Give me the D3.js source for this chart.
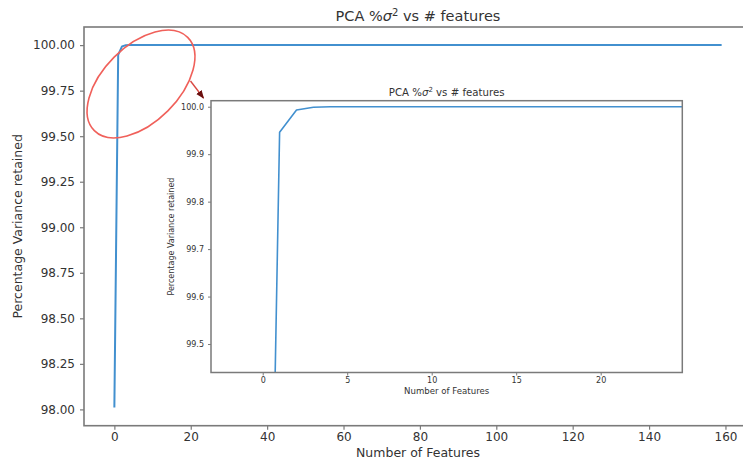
<!DOCTYPE html>
<html>
<head>
<meta charset="utf-8">
<script src="https://cdn.jsdelivr.net/npm/d3@7"></script>
<style>
  html, body { margin: 0; padding: 0; background: #fff; }
  svg { display: block; }
  text { font-family: "DejaVu Sans", sans-serif; fill: #333; }
</style>
</head>
<body>
<svg id="chart" width="743" height="459"></svg>
<script>
// ---- data ----
const features = [
  0,1,2,3,4,5,6,7,8,9,10,11,12,13,14,15,16,17,18,19,
  20,21,22,23,24,25,26,27,28,29,30,31,32,33,34,35,36,37,38,39,
  40,41,42,43,44,45,46,47,48,49,50,51,52,53,54,55,56,57,58,59,
  60,61,62,63,64,65,66,67,68,69,70,71,72,73,74,75,76,77,78,79,
  80,81,82,83,84,85,86,87,88,89,90,91,92,93,94,95,96,97,98,99,
  100,101,102,103,104,105,106,107,108,109,110,111,112,113,114,115,116,117,118,119,
  120,121,122,123,124,125,126,127,128,129,130,131,132,133,134,135,136,137,138,139,
  140,141,142,143,144,145,146,147,148,149,150,151,152,153,154,155,156,157,158,159
];
const varianceRetained = [
  98.01,99.946,99.993,99.999,100,100,100,100,100,100,100,100,100,100,100,100,100,100,100,100,
  100,100,100,100,100,100,100,100,100,100,100,100,100,100,100,100,100,100,100,100,
  100,100,100,100,100,100,100,100,100,100,100,100,100,100,100,100,100,100,100,100,
  100,100,100,100,100,100,100,100,100,100,100,100,100,100,100,100,100,100,100,100,
  100,100,100,100,100,100,100,100,100,100,100,100,100,100,100,100,100,100,100,100,
  100,100,100,100,100,100,100,100,100,100,100,100,100,100,100,100,100,100,100,100,
  100,100,100,100,100,100,100,100,100,100,100,100,100,100,100,100,100,100,100,100,
  100,100,100,100,100,100,100,100,100,100,100,100,100,100,100,100,100,100,100,100
];
const mainXTicks = [0,20,40,60,80,100,120,140,160];
const mainYTicks = [98.00,98.25,98.50,98.75,99.00,99.25,99.50,99.75,100.00];
const insetXTicks = [0,5,10,15,20];
const insetYTicks = [99.5,99.6,99.7,99.8,99.9,100.0];
const titleStart = "PCA %";
const titleSigma = "\u03C3";
const titleEnd = " vs # features";
const xLabelText = "Number of Features";
const yLabelText = "Percentage Variance retained";

const data = features.map((f, i) => ({x: f, y: varianceRetained[i]}));

const svg = d3.select("#chart");
const lineColor = "#4290cf";
const spineColor = "#7a7a7a";

function addTitle(sel, supSize, shift) {
  sel.append("tspan").text(titleStart);
  sel.append("tspan").attr("font-style", "italic").text(titleSigma);
  sel.append("tspan").attr("font-size", supSize).attr("dy", -shift).text("2");
  sel.append("tspan").attr("dy", shift).text(titleEnd);
}

// ---- main axes ----
const M = {left: 84, top: 27, right: 752, bottom: 425.7};
const x = d3.scaleLinear().domain([-7.95, 166.95]).range([M.left, M.right]);
const y = d3.scaleLinear().domain([97.9105, 100.0995]).range([M.bottom, M.top]);

const gx = svg.append("g").attr("transform", `translate(0,${M.bottom})`)
  .call(d3.axisBottom(x).tickValues(mainXTicks).tickFormat(d3.format("d")).tickSize(4).tickPadding(3));
const gy = svg.append("g").attr("transform", `translate(${M.left},0)`)
  .call(d3.axisLeft(y).tickValues(mainYTicks).tickFormat(d3.format(".2f")).tickSize(4).tickPadding(5));
[gx, gy].forEach(g => {
  g.select(".domain").remove();
  g.selectAll(".tick line").attr("stroke", spineColor).attr("stroke-width", 1.2);
  g.selectAll(".tick text").attr("font-size", 12).attr("fill", "#333").style("font-family", "DejaVu Sans");
});
svg.append("rect").attr("x", M.left).attr("y", M.top)
  .attr("width", M.right - M.left).attr("height", M.bottom - M.top)
  .attr("fill", "none").attr("stroke", spineColor).attr("stroke-width", 1.6);

svg.append("path").datum(data)
  .attr("fill", "none").attr("stroke", lineColor).attr("stroke-width", 2)
  .attr("stroke-linejoin", "round")
  .attr("d", d3.line().x(d => x(d.x)).y(d => y(d.y)));

const title = svg.append("text").attr("x", (M.left + M.right) / 2).attr("y", 20.5)
  .attr("text-anchor", "middle").attr("font-size", 14.5);
addTitle(title, 10, 5);

svg.append("text").attr("x", (M.left + M.right) / 2).attr("y", 456.5)
  .attr("text-anchor", "middle").attr("font-size", 12.5).text(xLabelText);
svg.append("text").attr("transform", `translate(22,${(M.top + M.bottom) / 2}) rotate(-90)`)
  .attr("text-anchor", "middle").attr("font-size", 12.5).text(yLabelText);

// ---- inset axes ----
const I = {left: 211, top: 100.7, right: 682.3, bottom: 372.5};
const ix = d3.scaleLinear().domain([-3.06, 24.83]).range([I.left, I.right]);
const iy = d3.scaleLinear().domain([99.44, 100.0127]).range([I.bottom, I.top]);

svg.append("rect").attr("x", I.left).attr("y", I.top)
  .attr("width", I.right - I.left).attr("height", I.bottom - I.top)
  .attr("fill", "#fff");

svg.append("clipPath").attr("id", "insetClip").append("rect")
  .attr("x", I.left).attr("y", I.top).attr("width", I.right - I.left).attr("height", I.bottom - I.top);

svg.append("path").datum(data)
  .attr("clip-path", "url(#insetClip)")
  .attr("fill", "none").attr("stroke", lineColor).attr("stroke-width", 1.6)
  .attr("stroke-linejoin", "round")
  .attr("d", d3.line().x(d => ix(d.x)).y(d => iy(d.y)));

const igx = svg.append("g").attr("transform", `translate(0,${I.bottom})`)
  .call(d3.axisBottom(ix).tickValues(insetXTicks).tickFormat(d3.format("d")).tickSize(3).tickPadding(2));
const igy = svg.append("g").attr("transform", `translate(${I.left},0)`)
  .call(d3.axisLeft(iy).tickValues(insetYTicks).tickFormat(d3.format(".1f")).tickSize(3).tickPadding(4));
[igx, igy].forEach(g => {
  g.select(".domain").remove();
  g.selectAll(".tick line").attr("stroke", spineColor).attr("stroke-width", 1);
  g.selectAll(".tick text").attr("font-size", 8).attr("fill", "#444").style("font-family", "DejaVu Sans");
});
svg.append("rect").attr("x", I.left).attr("y", I.top)
  .attr("width", I.right - I.left).attr("height", I.bottom - I.top)
  .attr("fill", "none").attr("stroke", spineColor).attr("stroke-width", 1.5);

const ititle = svg.append("text").attr("x", (I.left + I.right) / 2).attr("y", 95.5)
  .attr("text-anchor", "middle").attr("font-size", 10.2);
addTitle(ititle, 7, 4);

svg.append("text").attr("x", (I.left + I.right) / 2).attr("y", 393.5)
  .attr("text-anchor", "middle").attr("font-size", 8.6).text(xLabelText);
svg.append("text").attr("transform", `translate(174,${(I.top + I.bottom) / 2}) rotate(-90)`)
  .attr("text-anchor", "middle").attr("font-size", 8).text(yLabelText);

// ---- red annotation ellipse and arrow ----
svg.append("defs").append("marker").attr("id", "arrowHead")
  .attr("viewBox", "0 0 10 10").attr("refX", 9).attr("refY", 5)
  .attr("markerWidth", 6).attr("markerHeight", 6).attr("orient", "auto")
  .append("path").attr("d", "M0,1 L10,5 L0,9 z").attr("fill", "#6b0f0f");

svg.append("ellipse").attr("cx", 0).attr("cy", 0).attr("rx", 66).attr("ry", 38)
  .attr("transform", "translate(141,84) rotate(-45)")
  .attr("fill", "none").attr("stroke", "#f0605a").attr("stroke-width", 1.6);

svg.append("line").attr("x1", 190.5).attr("y1", 81).attr("x2", 203.5).attr("y2", 98)
  .attr("stroke", "#d94a44").attr("stroke-width", 1.4).attr("marker-end", "url(#arrowHead)");
</script>
</body>
</html>
